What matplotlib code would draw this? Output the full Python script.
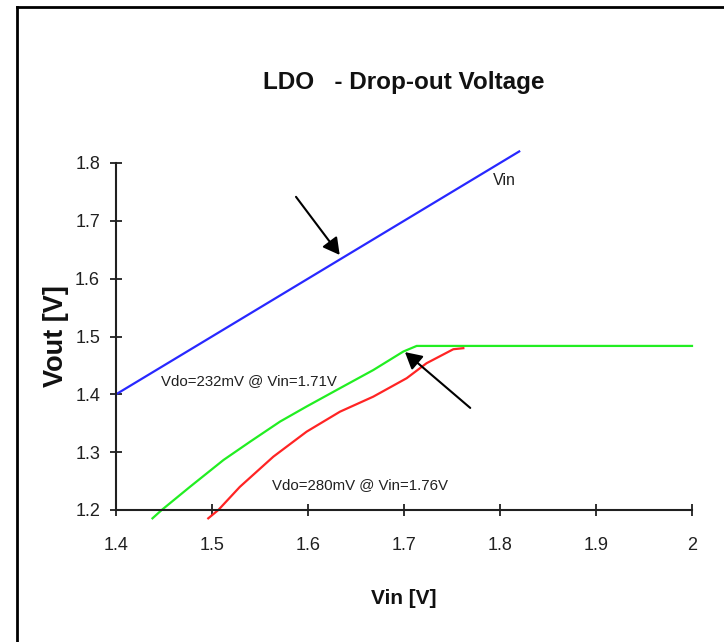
import matplotlib
matplotlib.use("Agg")
import matplotlib.pyplot as plt
from matplotlib.lines import Line2D

# Data
vin_x = [1.40, 1.82]
vin_y = [1.40, 1.82]

green_x = [1.438, 1.4476, 1.477, 1.512, 1.5396, 1.571, 1.5986, 1.6333, 1.668, 1.6993, 1.7132, 2.00]
green_y = [1.1856, 1.200, 1.240, 1.2865, 1.318, 1.353, 1.379, 1.4106, 1.442, 1.474, 1.4837, 1.4837]

red_x = [1.4961, 1.5066, 1.529, 1.5639, 1.5986, 1.6333, 1.668, 1.7028, 1.7235, 1.7514, 1.7618]
red_y = [1.1856, 1.200, 1.240, 1.2922, 1.3355, 1.370, 1.396, 1.4279, 1.4538, 1.478, 1.4798]

x_ticks = [1.4, 1.5, 1.6, 1.7, 1.8, 1.9, 2.0]
x_tick_labels = ["1.4", "1.5", "1.6", "1.7", "1.8", "1.9", "2"]
y_ticks = [1.2, 1.3, 1.4, 1.5, 1.6, 1.7, 1.8]
y_tick_labels = ["1.2", "1.3", "1.4", "1.5", "1.6", "1.7", "1.8"]

FONT = ["Liberation Sans", "DejaVu Sans"]
plt.rcParams['font.family'] = FONT

fig = plt.figure(figsize=(7.24, 6.42), dpi=100)
fig.patch.set_facecolor("white")

# Figure border (top and left)
fig.add_artist(Line2D([17/724, 1.0], [1 - 7/642, 1 - 7/642], transform=fig.transFigure,
                      color="black", lw=2))
fig.add_artist(Line2D([17/724, 17/724], [0.0, 1 - 7/642], transform=fig.transFigure,
                      color="black", lw=2))

ax = fig.add_axes([116/724, 1 - 510/642, (692 - 116)/724, (510 - 163)/642])
ax.set_xlim(1.4, 2.0)
ax.set_ylim(1.2, 1.8)

ax.plot(vin_x, vin_y, color="#2828ff", lw=1.6, clip_on=False)
ax.plot(green_x, green_y, color="#22ee22", lw=1.6, clip_on=False)
ax.plot(red_x, red_y, color="#ff2424", lw=1.6, clip_on=False)

for s in ["top", "right"]:
    ax.spines[s].set_visible(False)
for s in ["left", "bottom"]:
    ax.spines[s].set_linewidth(1.5)
    ax.spines[s].set_color("#202020")

ax.set_xticks(x_ticks)
ax.set_xticklabels(x_tick_labels)
ax.set_yticks(y_ticks)
ax.set_yticklabels(y_tick_labels)
ax.tick_params(axis="both", direction="inout", length=9, width=1.3, color="#202020",
               labelsize=13, labelcolor="#202020")
ax.tick_params(axis="x", pad=15)
ax.tick_params(axis="y", pad=7)

ax.set_title("LDO   - Drop-out Voltage", fontsize=17.5, fontweight="bold",
             pad=53, color="#111111")
ax.set_xlabel("Vin [V]", fontsize=15, fontweight="bold", labelpad=25, color="#111111")
ax.set_ylabel("Vout [V]", fontsize=19.5, fontweight="bold", labelpad=4, color="#111111")

ax.text(1.7927, 1.769, "Vin", fontsize=11.5, va="center", ha="left", color="#202020")
ax.text(1.4465, 1.4233, "Vdo=232mV @ Vin=1.71V", fontsize=10.8, va="center", ha="left",
        color="#202020")
ax.text(1.5622, 1.2433, "Vdo=280mV @ Vin=1.76V", fontsize=10.8, va="center", ha="left",
        color="#202020")

arrow_style = dict(arrowstyle="-|>,head_length=1.0,head_width=0.55", color="black", lw=1.5,
                   shrinkA=0, shrinkB=0)
ax.annotate("", xy=(1.633, 1.641), xytext=(1.5875, 1.7415), arrowprops=arrow_style,
            annotation_clip=False)
ax.annotate("", xy=(1.701, 1.473), xytext=(1.769, 1.3765), arrowprops=arrow_style,
            annotation_clip=False)

fig.savefig("out.png", dpi=100, facecolor="white")
